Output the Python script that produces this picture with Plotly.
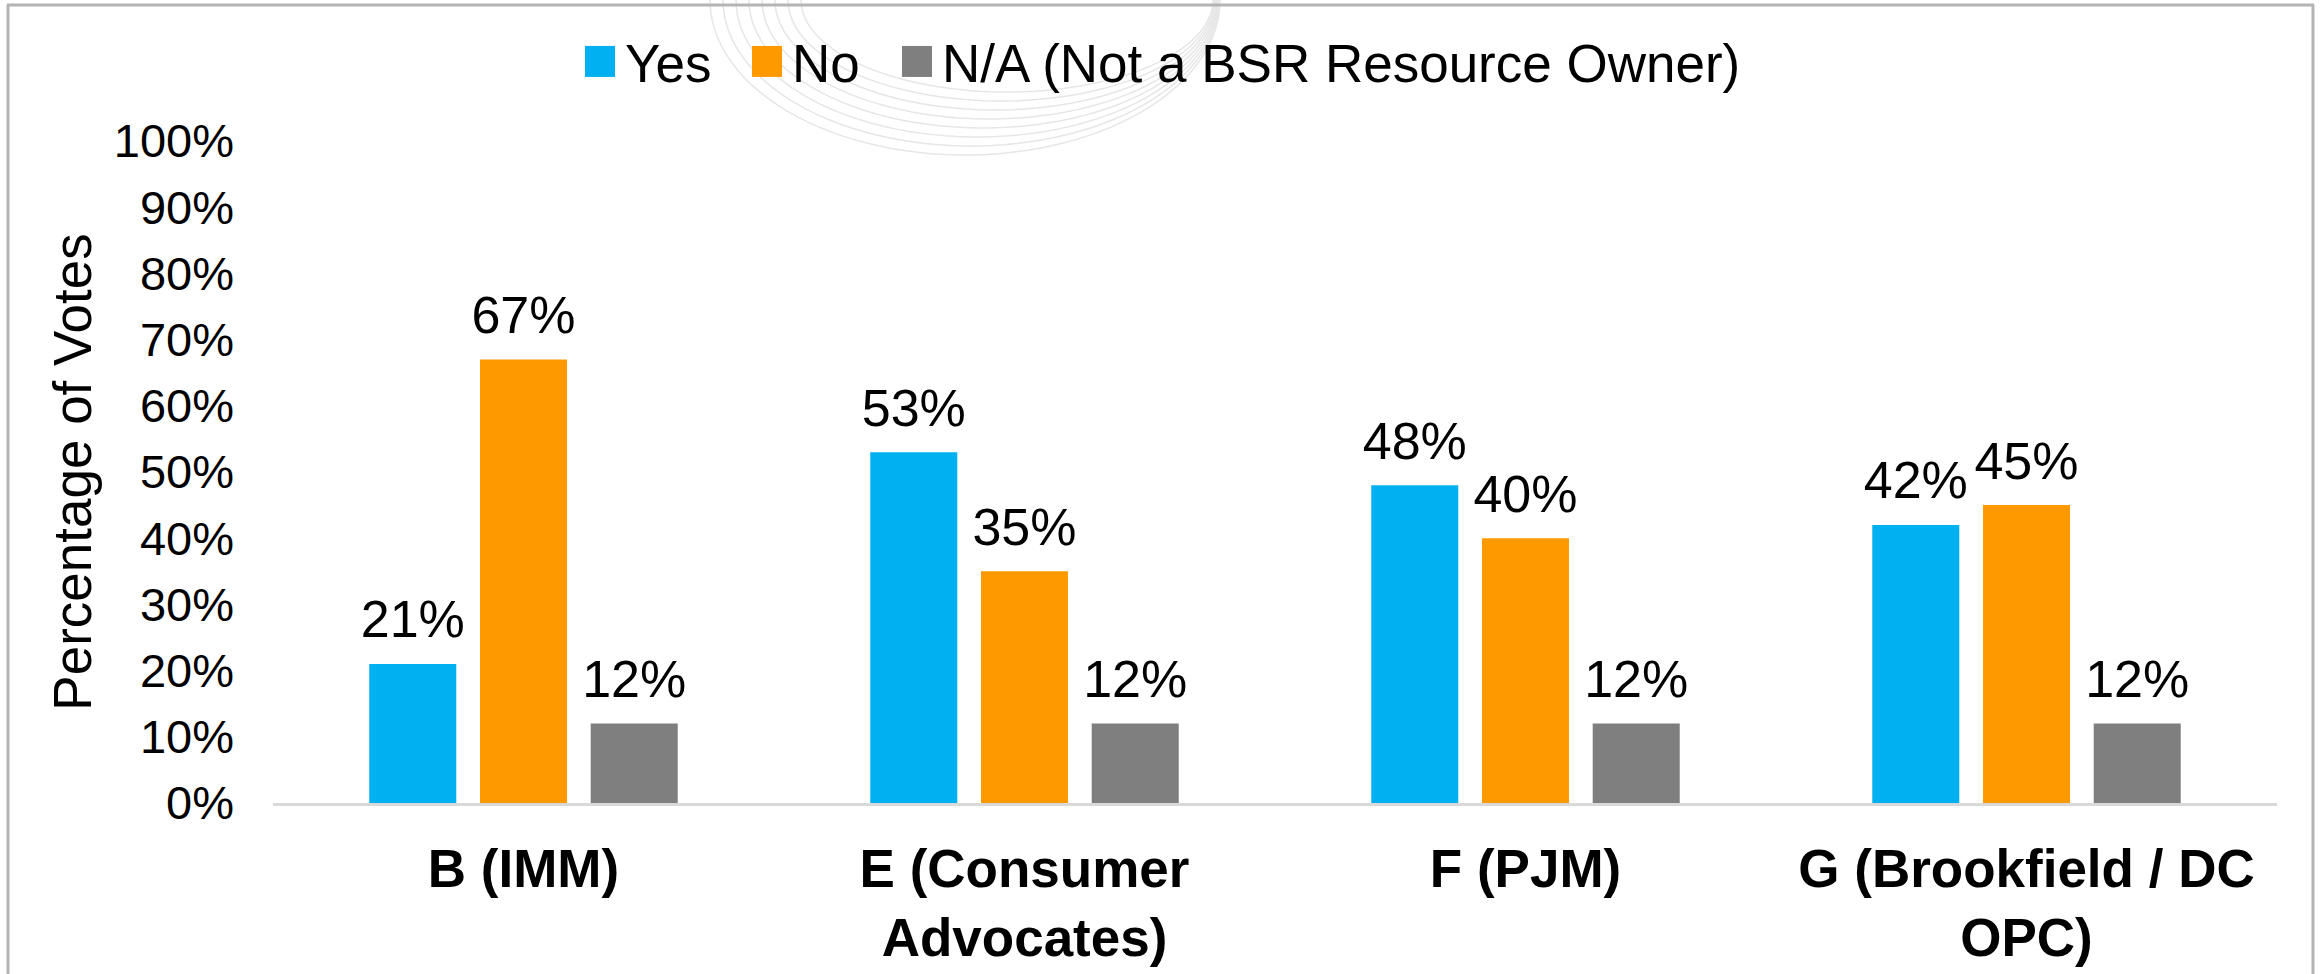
import plotly.graph_objects as go
import numpy as np

categories = ["B (IMM)", "E (Consumer<br>Advocates)", "F (PJM)", "G (Brookfield / DC<br>OPC)"]
series_names = ["Yes", "No", "N/A (Not a BSR Resource Owner)"]
yes_vals = [0.21, 0.53, 0.48, 0.42]
no_vals = [0.67, 0.35, 0.40, 0.45]
na_vals = [0.12, 0.12, 0.12, 0.12]
colors = ["#00B0F0", "#FF9900", "#7F7F7F"]
y_ticks = [0, 0.1, 0.2, 0.3, 0.4, 0.5, 0.6, 0.7, 0.8, 0.9, 1.0]

W, H = 2321, 974
ML, MR, MT, MB = 273, 44, 141, 171
PW, PH = W - ML - MR, H - MT - MB
FONT = "Liberation Sans, Arial, sans-serif"


def px(x):
    return (x - ML) / PW


def py(y):
    return (H - MB - y) / PH


fig = go.Figure()
for name, vals, col in zip(series_names, [yes_vals, no_vals, na_vals], colors):
    fig.add_trace(go.Bar(x=categories, y=vals, name=name, marker=dict(color=col, line=dict(width=0)),
                         offsetgroup=name, hoverinfo="skip"))
for name, vals in zip(series_names, [yes_vals, no_vals, na_vals]):
    fig.add_trace(go.Scatter(x=categories, y=vals, mode="markers+text", orientation="v",
                             offsetgroup=name, showlegend=False,
                             marker=dict(size=20, opacity=0, color="white"),
                             text=[f"{round(v*100)}%" for v in vals], textposition="top center",
                             textfont=dict(size=52, color="black", family=FONT), hoverinfo="skip"))

shapes = []
# frame
bc = "#B4B4B4"
shapes.append(dict(type="line", xref="paper", yref="paper", x0=px(7), x1=px(2314), y0=py(5), y1=py(5),
                   line=dict(color=bc, width=3)))
shapes.append(dict(type="line", xref="paper", yref="paper", x0=px(8), x1=px(8), y0=py(5), y1=py(990),
                   line=dict(color=bc, width=3)))
shapes.append(dict(type="line", xref="paper", yref="paper", x0=px(2313), x1=px(2313), y0=py(5), y1=py(990),
                   line=dict(color=bc, width=3)))
# faint watermark arcs
for i in range(8):
    cx = 965 + 6 * i
    rx = 255 - 7 * i
    ry = 155 - 9 * i
    t = np.linspace(0, np.pi, 60)
    xs = cx + rx * np.cos(t)
    ys = 0 + ry * np.sin(t)
    path = "M " + " L ".join(f"{px(a):.5f},{py(b):.5f}" for a, b in zip(xs, ys))
    shapes.append(dict(type="path", xref="paper", yref="paper", path=path, layer="below",
                       line=dict(color="#E6E6E6", width=1.5)))

fig.update_layout(
    width=W, height=H,
    margin=dict(l=ML, r=MR, t=MT, b=MB, autoexpand=False),
    paper_bgcolor="white", plot_bgcolor="white",
    barmode="group", bargap=0.337, bargroupgap=0.214,
    scattermode="group", scattergap=0.337,
    font=dict(family=FONT, color="black", size=47),
    showlegend=True,
    legend=dict(orientation="h", xref="container", yref="container", x=0.5, xanchor="center",
                y=1 - 61.5 / H, yanchor="middle", font=dict(size=53, family=FONT, color="black"),
                bgcolor="rgba(0,0,0,0)",
                itemclick=False, itemdoubleclick=False, traceorder="normal"),
    xaxis=dict(showline=True, linecolor="#D9D9D9", linewidth=3, showgrid=False, zeroline=False,
               ticks="", tickfont=dict(size=53, family=FONT, color="black", weight="bold"),
               ticklabelstandoff=17, automargin=False, fixedrange=True),
    yaxis=dict(range=[0, 1], tickvals=y_ticks, tickformat=".0%", showgrid=False, zeroline=False,
               showline=False, ticks="", tickfont=dict(size=47, family=FONT, color="black"),
               ticklabelstandoff=38, automargin=False, fixedrange=True,
               title=dict(text="Percentage of Votes", font=dict(size=53, family=FONT, color="black"),
                          standoff=5)),
    shapes=shapes,
)

post = """
document.body.style.margin = '0';
var gd = document.getElementById('{plot_id}');
gd.querySelectorAll('.legend [clip-path]').forEach(function(e){ e.removeAttribute('clip-path'); });
gd.querySelectorAll('.infolayer .legend').forEach(function(e){ e.style.overflow = 'visible'; });
var targets = [585, 752, 902];
var items = gd.querySelectorAll('.legend .traces');
items.forEach(function(it){
  var p = it.querySelector('.legendpoints path');
  if (p) { p.setAttribute('d', 'M15,15.5H-15V-15.5H15Z'); }
  var t = it.querySelector('text.legendtext');
  if (t) { t.setAttribute('x', 45); }
});
items.forEach(function(it, i){
  var p = it.querySelector('.legendpoints path');
  if (!p || i >= targets.length) return;
  var r = p.getBoundingClientRect();
  var d = targets[i] - r.left;
  var tr = it.getAttribute('transform') || '';
  var m = tr.match(/translate\\(\\s*([-\\d.e]+)[\\s,]+([-\\d.e]+)\\s*\\)/);
  var x = m ? parseFloat(m[1]) : 0, y = m ? parseFloat(m[2]) : 0;
  it.setAttribute('transform', 'translate(' + (x + d) + ',' + y + ')');
});
"""
fig.write_html("out.html", post_script=post, config={"displayModeBar": False})
